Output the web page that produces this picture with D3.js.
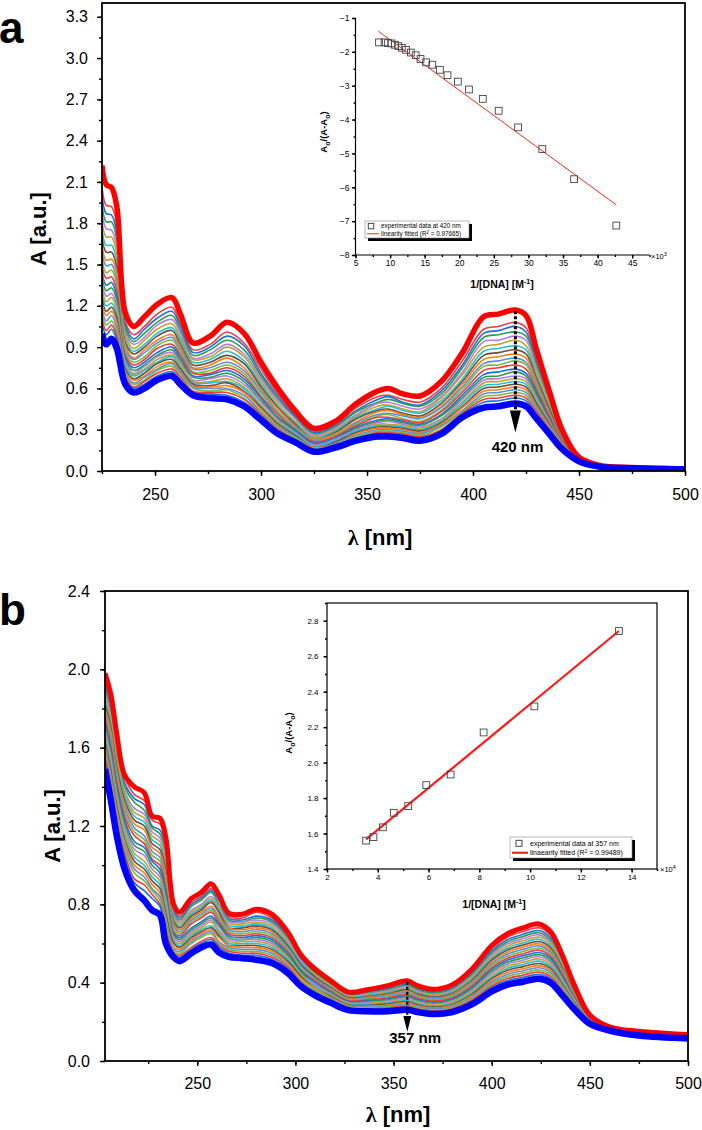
<!DOCTYPE html>
<html><head><meta charset="utf-8">
<script src="https://cdn.jsdelivr.net/npm/d3@7/dist/d3.min.js"></script>
<style>
body{margin:0;background:#fff}
svg{display:block}
text{font-family:"Liberation Sans",Arial,sans-serif;fill:#000}
</style>
</head><body>
<svg id="chart" width="702" height="1130"></svg>
<script>
// ---------------- Panel a: spectra (rows = wavelength; columns = titration steps, first = free complex, last = highest [DNA])
const wavelengthsA = [225,227,229.5,232,236,240,245,251,258,262,268,276,284,292,300,308,316,325,335,345,355,360,367,375,385,395,405,412,420,425,430,436,442,450,460,475,500];
const absorbanceA = [
[2.22, 2.06,2.00,1.94,1.88,1.82,1.76,1.70,1.65,1.60,1.55,1.50,1.45,1.41,1.37,1.33,1.29,1.26,1.22,1.18,1.15,1.11,1.07, 1.00],
[2.08, 1.93,1.87,1.81,1.76,1.70,1.64,1.59,1.53,1.49,1.44,1.40,1.35,1.31,1.27,1.23,1.20,1.16,1.13,1.09,1.06,1.02,0.99, 0.92],
[2.06, 1.92,1.86,1.81,1.75,1.70,1.64,1.59,1.54,1.50,1.46,1.41,1.37,1.33,1.29,1.26,1.22,1.19,1.16,1.13,1.09,1.06,1.03, 0.96],
[1.92, 1.79,1.73,1.68,1.63,1.58,1.53,1.48,1.44,1.39,1.35,1.31,1.27,1.24,1.20,1.17,1.14,1.11,1.08,1.04,1.01,0.98,0.95, 0.89],
[1.15, 1.08,1.06,1.03,1.00,0.98,0.95,0.93,0.91,0.88,0.86,0.84,0.82,0.80,0.79,0.77,0.76,0.74,0.72,0.71,0.69,0.68,0.66, 0.63],
[1.05, 0.99,0.96,0.94,0.92,0.89,0.87,0.85,0.82,0.81,0.79,0.77,0.75,0.73,0.71,0.70,0.69,0.67,0.66,0.64,0.63,0.61,0.60, 0.57],
[1.12, 1.05,1.03,1.00,0.97,0.95,0.92,0.90,0.88,0.86,0.83,0.81,0.79,0.77,0.76,0.74,0.73,0.71,0.69,0.68,0.66,0.65,0.63, 0.60],
[1.21, 1.14,1.11,1.08,1.06,1.03,1.00,0.98,0.95,0.93,0.91,0.89,0.86,0.84,0.83,0.81,0.79,0.78,0.76,0.74,0.73,0.71,0.69, 0.66],
[1.26, 1.19,1.16,1.13,1.10,1.07,1.04,1.02,0.99,0.97,0.95,0.92,0.90,0.88,0.86,0.84,0.83,0.81,0.79,0.78,0.76,0.74,0.72, 0.69],
[1.14, 1.07,1.05,1.02,1.00,0.97,0.95,0.92,0.90,0.88,0.86,0.84,0.82,0.80,0.78,0.77,0.75,0.74,0.72,0.71,0.69,0.68,0.66, 0.63],
[0.93, 0.88,0.86,0.84,0.82,0.81,0.79,0.77,0.75,0.74,0.72,0.71,0.69,0.68,0.66,0.65,0.64,0.63,0.62,0.61,0.60,0.58,0.57, 0.55],
[0.98, 0.92,0.90,0.88,0.85,0.83,0.81,0.79,0.77,0.75,0.73,0.71,0.70,0.68,0.67,0.65,0.64,0.62,0.61,0.60,0.58,0.57,0.56, 0.53],
[1.08, 1.01,0.98,0.95,0.92,0.90,0.87,0.84,0.82,0.79,0.77,0.75,0.73,0.71,0.69,0.67,0.65,0.64,0.62,0.60,0.59,0.57,0.55, 0.52],
[1.00, 0.93,0.91,0.88,0.85,0.83,0.80,0.78,0.75,0.73,0.71,0.69,0.67,0.65,0.63,0.61,0.60,0.58,0.57,0.55,0.53,0.52,0.50, 0.47],
[0.79, 0.74,0.71,0.69,0.67,0.65,0.63,0.61,0.59,0.58,0.56,0.54,0.53,0.51,0.50,0.48,0.47,0.46,0.45,0.43,0.42,0.41,0.40, 0.37],
[0.60, 0.56,0.54,0.52,0.51,0.49,0.47,0.46,0.45,0.43,0.42,0.41,0.39,0.38,0.37,0.36,0.35,0.34,0.33,0.32,0.31,0.30,0.29, 0.27],
[0.44, 0.41,0.40,0.39,0.38,0.36,0.35,0.34,0.33,0.32,0.31,0.30,0.30,0.29,0.28,0.27,0.27,0.26,0.25,0.25,0.24,0.23,0.22, 0.21],
[0.31, 0.29,0.28,0.27,0.26,0.25,0.24,0.23,0.23,0.22,0.21,0.21,0.20,0.19,0.19,0.18,0.18,0.17,0.17,0.16,0.16,0.15,0.15, 0.14],
[0.36, 0.34,0.33,0.32,0.31,0.30,0.29,0.28,0.27,0.26,0.26,0.25,0.24,0.23,0.23,0.22,0.22,0.21,0.20,0.20,0.19,0.19,0.18, 0.17],
[0.49, 0.46,0.44,0.43,0.41,0.40,0.39,0.38,0.36,0.35,0.34,0.33,0.32,0.31,0.30,0.29,0.29,0.28,0.27,0.26,0.25,0.24,0.24, 0.22],
[0.58, 0.54,0.52,0.50,0.49,0.47,0.45,0.44,0.43,0.41,0.40,0.39,0.37,0.36,0.35,0.34,0.33,0.32,0.31,0.30,0.29,0.28,0.27, 0.25],
[0.60, 0.55,0.54,0.52,0.50,0.48,0.47,0.45,0.44,0.42,0.41,0.39,0.38,0.37,0.36,0.34,0.33,0.32,0.31,0.30,0.29,0.28,0.27, 0.25],
[0.56, 0.52,0.50,0.49,0.47,0.45,0.44,0.42,0.41,0.40,0.38,0.37,0.36,0.35,0.34,0.33,0.32,0.31,0.30,0.29,0.28,0.27,0.26, 0.24],
[0.545, 0.50,0.48,0.47,0.45,0.43,0.42,0.40,0.39,0.38,0.36,0.35,0.34,0.33,0.32,0.31,0.30,0.29,0.28,0.27,0.26,0.25,0.24, 0.22],
[0.65, 0.60,0.58,0.56,0.54,0.53,0.51,0.49,0.47,0.46,0.44,0.43,0.41,0.40,0.38,0.37,0.36,0.35,0.34,0.33,0.32,0.30,0.29, 0.27],
[0.86, 0.80,0.77,0.75,0.72,0.70,0.67,0.65,0.63,0.61,0.59,0.57,0.55,0.53,0.52,0.50,0.49,0.47,0.46,0.44,0.43,0.42,0.41, 0.39],
[1.12, 1.03,1.00,0.97,0.94,0.90,0.87,0.84,0.81,0.78,0.76,0.73,0.70,0.68,0.66,0.64,0.62,0.60,0.58,0.56,0.54,0.52,0.50, 0.46],
[1.14, 1.05,1.02,0.99,0.95,0.92,0.89,0.86,0.83,0.80,0.77,0.75,0.72,0.69,0.67,0.65,0.63,0.61,0.59,0.57,0.55,0.53,0.51, 0.47],
[1.17, 1.08,1.05,1.01,0.98,0.95,0.91,0.88,0.85,0.82,0.80,0.77,0.74,0.72,0.69,0.67,0.65,0.63,0.61,0.59,0.57,0.55,0.53, 0.49],
[1.13, 1.04,1.01,0.98,0.95,0.91,0.88,0.85,0.82,0.79,0.77,0.74,0.71,0.69,0.67,0.65,0.63,0.61,0.59,0.57,0.55,0.53,0.51, 0.47],
[0.88, 0.82,0.79,0.77,0.74,0.72,0.69,0.67,0.65,0.63,0.61,0.59,0.57,0.55,0.53,0.52,0.50,0.49,0.47,0.46,0.44,0.43,0.41, 0.38],
[0.58, 0.54,0.52,0.51,0.49,0.48,0.46,0.45,0.43,0.42,0.41,0.40,0.38,0.37,0.36,0.35,0.34,0.34,0.33,0.32,0.31,0.30,0.29, 0.27],
[0.30, 0.28,0.28,0.27,0.26,0.25,0.25,0.24,0.23,0.23,0.22,0.22,0.21,0.21,0.20,0.20,0.19,0.19,0.19,0.18,0.18,0.17,0.17, 0.16],
[0.10, 0.096,0.095,0.093,0.092,0.090,0.089,0.087,0.086,0.085,0.084,0.082,0.081,0.080,0.079,0.078,0.077,0.076,0.075,0.075,0.074,0.073,0.072, 0.07],
[0.04, 0.039,0.038,0.038,0.037,0.037,0.036,0.036,0.035,0.035,0.035,0.034,0.034,0.033,0.033,0.033,0.032,0.032,0.032,0.032,0.031,0.031,0.031, 0.03],
[0.025, 0.024,0.024,0.024,0.024,0.023,0.023,0.023,0.023,0.022,0.022,0.022,0.022,0.022,0.022,0.021,0.021,0.021,0.021,0.021,0.021,0.020,0.020, 0.02],
[0.015, 0.014,0.014,0.014,0.014,0.014,0.014,0.014,0.014,0.014,0.014,0.014,0.013,0.013,0.013,0.013,0.013,0.013,0.013,0.013,0.013,0.013,0.013, 0.012]
];
const yTicksA = [0,0.3,0.6,0.9,1.2,1.5,1.8,2.1,2.4,2.7,3.0,3.3];
const xTicksA = [250,300,350,400,450,500];

// Inset a
const dnaInvA = [8.4,9.2,9.7,10.2,10.7,11.2,11.7,12.3,13.0,13.7,14.4,15.2,16.1,17.2,18.3,19.8,21.4,23.4,25.7,28.5,32.0,36.6,42.7];
const ratioA  = [-1.72,-1.72,-1.74,-1.75,-1.79,-1.83,-1.88,-1.94,-2.02,-2.10,-2.21,-2.31,-2.38,-2.53,-2.69,-2.88,-3.11,-3.39,-3.74,-4.23,-4.87,-5.76,-7.13];
const fitAx = [8.3, 42.7];
const fitAy = [-1.39, -6.52];
const insetAyTicks = [-8,-7,-6,-5,-4,-3,-2,-1];
const insetAxTicks = [5,10,15,20,25,30,35,40,45];

// ---------------- Panel b
const wavelengthsB = [203,206,209,213,218,223,227,231,234,238,241,247,252,257,261,266,273,280,288,296,303,310,318,327,337,347,357,362,370,380,390,400,408,416,424,430,436,442,450,460,475,500];
const absorbanceB = [
[1.98, 1.95,1.92,1.90,1.88,1.86,1.84,1.82,1.80,1.78,1.76,1.75,1.73,1.71,1.69,1.67,1.65,1.63,1.61,1.59,1.57,1.55,1.53, 1.49],
[1.87, 1.83,1.81,1.78,1.76,1.74,1.72,1.70,1.68,1.65,1.63,1.61,1.59,1.57,1.55,1.52,1.50,1.48,1.46,1.44,1.42,1.40,1.37, 1.33],
[1.67, 1.63,1.61,1.59,1.57,1.55,1.52,1.50,1.48,1.46,1.44,1.42,1.40,1.38,1.36,1.34,1.32,1.30,1.28,1.25,1.23,1.21,1.19, 1.15],
[1.46, 1.45,1.42,1.40,1.38,1.37,1.35,1.33,1.31,1.29,1.27,1.25,1.23,1.21,1.19,1.17,1.15,1.13,1.12,1.10,1.08,1.06,1.04, 0.98],
[1.40, 1.36,1.34,1.32,1.29,1.27,1.25,1.23,1.21,1.19,1.17,1.15,1.12,1.10,1.08,1.06,1.04,1.02,1.00,0.98,0.96,0.93,0.91, 0.87],
[1.37, 1.33,1.31,1.28,1.26,1.24,1.22,1.20,1.18,1.15,1.13,1.11,1.09,1.07,1.05,1.02,1.00,0.98,0.96,0.94,0.92,0.90,0.87, 0.82],
[1.25, 1.23,1.20,1.19,1.17,1.15,1.13,1.11,1.09,1.07,1.05,1.03,1.02,1.00,0.98,0.96,0.94,0.92,0.90,0.88,0.87,0.85,0.83, 0.77],
[1.24, 1.21,1.18,1.16,1.14,1.12,1.10,1.08,1.06,1.04,1.02,1.00,0.98,0.96,0.94,0.92,0.90,0.88,0.86,0.84,0.82,0.80,0.79, 0.745],
[1.14, 1.10,1.08,1.05,1.03,1.01,0.99,0.97,0.95,0.92,0.90,0.88,0.86,0.84,0.82,0.79,0.77,0.75,0.73,0.71,0.69,0.67,0.64, 0.60],
[0.80, 0.78,0.77,0.75,0.74,0.73,0.72,0.71,0.70,0.69,0.68,0.66,0.65,0.64,0.63,0.62,0.61,0.60,0.58,0.57,0.56,0.55,0.54, 0.53],
[0.76, 0.74,0.73,0.72,0.71,0.70,0.69,0.68,0.67,0.66,0.65,0.64,0.63,0.62,0.61,0.60,0.59,0.58,0.57,0.56,0.55,0.54,0.53, 0.51],
[0.83, 0.81,0.80,0.79,0.77,0.76,0.75,0.74,0.73,0.72,0.71,0.70,0.68,0.67,0.66,0.65,0.64,0.63,0.62,0.61,0.60,0.58,0.57, 0.55],
[0.86, 0.84,0.83,0.82,0.80,0.79,0.78,0.77,0.76,0.75,0.74,0.73,0.71,0.70,0.69,0.68,0.67,0.66,0.65,0.64,0.63,0.61,0.60, 0.58],
[0.905, 0.88,0.87,0.86,0.84,0.83,0.82,0.81,0.79,0.78,0.77,0.76,0.74,0.73,0.72,0.71,0.69,0.68,0.67,0.66,0.65,0.63,0.62, 0.595],
[0.85, 0.83,0.82,0.80,0.79,0.78,0.77,0.76,0.74,0.73,0.72,0.71,0.70,0.69,0.67,0.66,0.65,0.64,0.63,0.61,0.60,0.59,0.58, 0.555],
[0.755, 0.74,0.73,0.72,0.71,0.70,0.69,0.68,0.68,0.67,0.66,0.65,0.64,0.63,0.62,0.61,0.60,0.59,0.59,0.58,0.57,0.56,0.55, 0.532],
[0.75, 0.73,0.72,0.71,0.71,0.70,0.69,0.68,0.67,0.66,0.65,0.64,0.63,0.62,0.62,0.61,0.60,0.59,0.58,0.57,0.56,0.55,0.54, 0.525],
[0.775, 0.76,0.74,0.73,0.72,0.71,0.70,0.69,0.68,0.67,0.66,0.65,0.64,0.63,0.62,0.61,0.60,0.59,0.58,0.57,0.56,0.55,0.54, 0.517],
[0.75, 0.73,0.72,0.71,0.70,0.69,0.68,0.67,0.66,0.65,0.64,0.63,0.62,0.61,0.60,0.59,0.58,0.57,0.56,0.55,0.54,0.53,0.52, 0.50],
[0.66, 0.65,0.64,0.63,0.62,0.61,0.60,0.59,0.58,0.58,0.57,0.56,0.55,0.54,0.53,0.53,0.52,0.51,0.50,0.49,0.48,0.48,0.47, 0.45],
[0.54, 0.53,0.52,0.51,0.51,0.50,0.50,0.49,0.48,0.48,0.47,0.46,0.46,0.45,0.44,0.44,0.43,0.43,0.42,0.41,0.41,0.40,0.39, 0.38],
[0.47, 0.46,0.45,0.45,0.44,0.44,0.43,0.43,0.42,0.42,0.41,0.41,0.40,0.39,0.39,0.38,0.38,0.37,0.37,0.36,0.36,0.35,0.35, 0.335],
[0.41, 0.402,0.396,0.392,0.387,0.383,0.378,0.374,0.369,0.365,0.360,0.356,0.351,0.347,0.342,0.338,0.333,0.329,0.324,0.320,0.315,0.311,0.306, 0.297],
[0.352, 0.346,0.341,0.337,0.334,0.330,0.326,0.323,0.319,0.315,0.312,0.308,0.304,0.300,0.297,0.293,0.289,0.286,0.282,0.278,0.275,0.271,0.267, 0.26],
[0.365, 0.357,0.352,0.347,0.343,0.338,0.334,0.329,0.325,0.321,0.316,0.312,0.307,0.303,0.298,0.294,0.290,0.285,0.281,0.276,0.272,0.267,0.263, 0.254],
[0.385, 0.376,0.369,0.364,0.359,0.354,0.348,0.343,0.338,0.333,0.327,0.322,0.317,0.312,0.306,0.301,0.296,0.291,0.285,0.280,0.275,0.270,0.264, 0.254],
[0.41, 0.400,0.392,0.386,0.380,0.374,0.369,0.363,0.357,0.351,0.345,0.339,0.333,0.327,0.321,0.315,0.309,0.303,0.298,0.292,0.286,0.280,0.274, 0.262],
[0.385, 0.376,0.369,0.363,0.358,0.353,0.347,0.342,0.336,0.331,0.326,0.320,0.315,0.309,0.304,0.299,0.293,0.288,0.282,0.277,0.272,0.266,0.261, 0.25],
[0.366, 0.357,0.351,0.346,0.341,0.336,0.331,0.326,0.321,0.316,0.311,0.306,0.300,0.295,0.290,0.285,0.280,0.275,0.270,0.265,0.260,0.255,0.250, 0.24],
[0.39, 0.380,0.373,0.368,0.362,0.356,0.351,0.345,0.340,0.334,0.328,0.323,0.317,0.312,0.306,0.300,0.295,0.289,0.284,0.278,0.272,0.267,0.261, 0.25],
[0.47, 0.457,0.448,0.441,0.434,0.427,0.420,0.412,0.405,0.398,0.391,0.384,0.376,0.369,0.362,0.355,0.348,0.340,0.333,0.326,0.319,0.312,0.304, 0.29],
[0.59, 0.574,0.562,0.552,0.543,0.534,0.524,0.515,0.505,0.496,0.487,0.477,0.468,0.458,0.449,0.440,0.430,0.421,0.411,0.402,0.393,0.383,0.374, 0.355],
[0.65, 0.632,0.619,0.608,0.598,0.588,0.577,0.567,0.556,0.546,0.536,0.525,0.515,0.504,0.494,0.484,0.473,0.463,0.452,0.442,0.432,0.421,0.411, 0.39],
[0.68, 0.661,0.647,0.636,0.625,0.614,0.603,0.592,0.581,0.570,0.559,0.548,0.537,0.526,0.515,0.504,0.493,0.482,0.471,0.460,0.449,0.438,0.427, 0.405],
[0.70, 0.680,0.666,0.655,0.644,0.633,0.622,0.610,0.599,0.588,0.577,0.566,0.554,0.543,0.532,0.521,0.510,0.498,0.487,0.476,0.465,0.454,0.442, 0.42],
[0.66, 0.642,0.629,0.618,0.608,0.598,0.587,0.577,0.566,0.556,0.546,0.535,0.525,0.514,0.504,0.494,0.483,0.473,0.462,0.452,0.442,0.431,0.421, 0.40],
[0.54, 0.526,0.515,0.507,0.499,0.491,0.483,0.474,0.466,0.458,0.450,0.442,0.433,0.425,0.417,0.409,0.401,0.392,0.384,0.376,0.368,0.360,0.351, 0.335],
[0.39, 0.381,0.375,0.370,0.365,0.360,0.355,0.350,0.345,0.340,0.335,0.330,0.325,0.320,0.315,0.310,0.305,0.300,0.295,0.290,0.285,0.280,0.275, 0.265],
[0.235, 0.232,0.230,0.228,0.226,0.224,0.222,0.221,0.219,0.217,0.215,0.213,0.212,0.210,0.208,0.206,0.204,0.203,0.201,0.199,0.197,0.195,0.194, 0.19],
[0.175, 0.174,0.173,0.172,0.171,0.170,0.169,0.169,0.168,0.167,0.166,0.165,0.165,0.164,0.163,0.162,0.161,0.161,0.160,0.159,0.158,0.157,0.157, 0.155],
[0.152, 0.150,0.149,0.148,0.148,0.147,0.146,0.145,0.144,0.143,0.142,0.141,0.141,0.140,0.139,0.138,0.137,0.136,0.135,0.134,0.134,0.133,0.132, 0.13],
[0.135, 0.134,0.133,0.132,0.131,0.130,0.129,0.129,0.128,0.127,0.126,0.125,0.125,0.124,0.123,0.122,0.121,0.121,0.120,0.119,0.118,0.117,0.117, 0.115]
];
const yTicksB = [0,0.4,0.8,1.2,1.6,2.0,2.4];
const xTicksB = [250,300,350,400,450,500];

// Inset b
const dnaInvB = [3.54,3.83,4.20,4.63,5.20,5.91,6.87,8.17,10.17,13.50];
const ratioB  = [1.56,1.58,1.635,1.717,1.755,1.873,1.933,2.17,2.317,2.742];
const fitBx = [3.54, 13.5];
const fitBy = [1.567, 2.742];
const insetByTicks = [1.4,1.6,1.8,2.0,2.2,2.4,2.6,2.8];
const insetBxTicks = [2,4,6,8,10,12,14];

const thinColors = ['#ee3b3b','#1c6fdc','#2f9a4f','#b07fe0','#c7a02b','#1fc2d3','#6d4c3d','#ff7c14','#5b90d8','#7bb944'];

// ======================================================================
const svg = d3.select('#chart');
svg.append('rect').attr('width',702).attr('height',1130).attr('fill','#fff');

function styleAxis(g, fs){
  g.select('.domain').remove();
  g.selectAll('.tick line').attr('stroke','#000').attr('stroke-width',1.4);
  g.selectAll('.tick text').attr('font-size',fs).attr('fill','#000')
    .style('font-family','"Liberation Sans",Arial,sans-serif');
}

function mainPanel(o){
  const x = d3.scaleLinear().domain(o.xDomain).range([o.left,o.right]);
  const y = d3.scaleLinear().domain(o.yDomain).range([o.bottom,o.top]);
  const id = 'clip'+o.key;
  svg.append('clipPath').attr('id',id).append('rect')
    .attr('x',o.left).attr('y',o.top).attr('width',o.right-o.left).attr('height',o.bottom-o.top);
  const g = svg.append('g').attr('clip-path',`url(#${id})`);
  const n = o.rows[0].length;
  const line = d3.line().x((d,i)=>x(o.wl[i])).y(d=>y(d)).curve(d3.curveCatmullRom.alpha(0.5));
  for(let j=1;j<n-1;j++){
    g.append('path').attr('d',line(o.rows.map(r=>r[j]))).attr('fill','none')
      .attr('stroke',thinColors[(j-1)%thinColors.length]).attr('stroke-width',1.6);
  }
  g.append('path').attr('d',line(o.rows.map(r=>r[0]))).attr('fill','none')
    .attr('stroke','#ff0000').attr('stroke-width',o.thickTop).attr('stroke-linejoin','round');
  g.append('path').attr('d',line(o.rows.map(r=>r[n-1]))).attr('fill','none')
    .attr('stroke','#0000ff').attr('stroke-width',o.thickBot).attr('stroke-linejoin','round');

  // axes
  const minorY = d3.range(o.yDomain[0], o.yDomain[1]+1e-9, o.yMinor).map(v=>+v.toFixed(3));
  const minorX = d3.range(Math.ceil(o.xDomain[0]/o.xMinor)*o.xMinor, o.xDomain[1]+1e-9, o.xMinor);
  const gy2 = svg.append('g').attr('transform',`translate(${o.left},0)`)
    .call(d3.axisLeft(y).tickValues(minorY).tickSize(3).tickFormat(''));
  styleAxis(gy2, 0);
  const gy = svg.append('g').attr('transform',`translate(${o.left},0)`)
    .call(d3.axisLeft(y).tickValues(o.yTicks).tickSize(5).tickPadding(o.yPad).tickFormat(d3.format('.1f')));
  styleAxis(gy, o.tickFont);
  const gx2 = svg.append('g').attr('transform',`translate(0,${o.bottom})`)
    .call(d3.axisBottom(x).tickValues(minorX).tickSize(3).tickFormat(''));
  styleAxis(gx2, 0);
  const gx = svg.append('g').attr('transform',`translate(0,${o.bottom})`)
    .call(d3.axisBottom(x).tickValues(o.xTicks).tickSize(5).tickPadding(o.xPad).tickFormat(d3.format('d')));
  styleAxis(gx, o.tickFont);
  svg.append('rect').attr('x',o.left).attr('y',o.top).attr('width',o.right-o.left).attr('height',o.bottom-o.top)
    .attr('fill','none').attr('stroke','#000').attr('stroke-width',1.8);

  // titles
  svg.append('text').attr('transform',`translate(${o.yLabelX},${(o.top+o.bottom)/2+o.yLabelDy}) rotate(-90)`)
    .attr('text-anchor','middle').attr('font-size',22).attr('font-weight','bold').text('A [a.u.]');
  const xt = svg.append('text').attr('x',o.xLabelX).attr('y',o.xLabelY).attr('text-anchor','middle')
    .attr('font-size',22).attr('font-weight','bold');
  xt.append('tspan').style('font-family','"Liberation Serif","DejaVu Serif",serif').text('λ');
  xt.append('tspan').text(' [nm]');
  svg.append('text').attr('x',o.letterX).attr('y',o.letterY).attr('font-size',44).attr('font-weight','bold').text(o.key);

  // arrow annotation
  const ax = x(o.arrow.lambda);
  svg.append('line').attr('x1',ax).attr('x2',ax).attr('y1',y(o.arrow.from)).attr('y2',y(o.arrow.headStart))
    .attr('stroke','#000').attr('stroke-width',o.arrow.w).attr('stroke-dasharray','3,2');
  const hs = y(o.arrow.headStart), tip = y(o.arrow.tip);
  svg.append('path').attr('d',`M${ax-o.arrow.half},${hs} L${ax+o.arrow.half},${hs} L${ax},${tip} Z`).attr('fill','#000');
  svg.append('text').attr('x',x(o.arrow.textLambda)).attr('y',y(o.arrow.textY)).attr('text-anchor','middle')
    .attr('font-size',15).attr('font-weight','bold').text(o.arrow.label);
  return {x,y};
}

mainPanel({key:'a', wl:wavelengthsA, rows:absorbanceA, xDomain:[225,500], yDomain:[0,3.4],
  left:102, right:685, top:3, bottom:471, yTicks:yTicksA, xTicks:xTicksA, yMinor:0.15, xMinor:25,
  yPad:9, xPad:13, tickFont:16, thickTop:5.5, thickBot:6.5,
  yLabelX:46, yLabelDy:-8, xLabelX:380, xLabelY:545, letterX:-1, letterY:43,
  arrow:{lambda:420, from:1.16, headStart:0.44, tip:0.28, half:5.5, w:3, textLambda:421, textY:0.14, label:'420 nm'}});

mainPanel({key:'b', wl:wavelengthsB, rows:absorbanceB, xDomain:[203,500], yDomain:[0,2.4],
  left:105, right:688, top:591, bottom:1061, yTicks:yTicksB, xTicks:xTicksB, yMinor:0.2, xMinor:25,
  yPad:10, xPad:12, tickFont:16, thickTop:5, thickBot:6.5,
  yLabelX:60, yLabelDy:0, xLabelX:398, xLabelY:1122, letterX:-1, letterY:625,
  arrow:{lambda:357, from:0.405, headStart:0.23, tip:0.15, half:4, w:2.2, textLambda:361, textY:0.09, label:'357 nm'}});

// ---------------- insets
function yTitle(cx, cy){
  const t = svg.append('text').attr('transform',`translate(${cx},${cy}) rotate(-90)`).attr('text-anchor','middle')
    .attr('font-size',9.5).attr('font-weight','bold');
  t.append('tspan').text('A');
  t.append('tspan').attr('font-size',7).attr('dy',2.5).text('o');
  t.append('tspan').attr('dy',-2.5).text('/(A-A');
  t.append('tspan').attr('font-size',7).attr('dy',2.5).text('o');
  t.append('tspan').attr('dy',-2.5).text(')');
}
function xTitle(cx, cy){
  const t = svg.append('text').attr('x',cx).attr('y',cy).attr('text-anchor','middle')
    .attr('font-size',10.5).attr('font-weight','bold');
  t.append('tspan').text('1/[DNA] [M');
  t.append('tspan').attr('font-size',7).attr('dy',-4).text('-1');
  t.append('tspan').attr('dy',4).text(']');
}
function multiplier(xp, yp, exp){
  const t = svg.append('text').attr('x',xp).attr('y',yp).attr('font-size',7.5);
  t.append('tspan').text('×10');
  t.append('tspan').attr('font-size',5.5).attr('dy',-3).text(exp);
}
function legend(o){
  svg.append('rect').attr('x',o.x+3).attr('y',o.y+3).attr('width',o.w).attr('height',o.h).attr('fill','#000');
  svg.append('rect').attr('x',o.x).attr('y',o.y).attr('width',o.w).attr('height',o.h).attr('fill','#fff')
    .attr('stroke','#888').attr('stroke-width',0.6);
  const r1 = o.y + o.h*0.3, r2 = o.y + o.h*0.75;
  svg.append('rect').attr('x',o.mx-o.ms/2).attr('y',r1-o.ms/2).attr('width',o.ms).attr('height',o.ms)
    .attr('fill','none').attr('stroke','#333').attr('stroke-width',0.9);
  svg.append('line').attr('x1',o.x+2).attr('x2',o.tx-2).attr('y1',r2).attr('y2',r2).attr('stroke','#ee2a1a').attr('stroke-width',o.lw);
  svg.append('text').attr('x',o.tx).attr('y',r1+2.2).attr('font-size',o.fs).text(o.t1);
  const t = svg.append('text').attr('x',o.tx).attr('y',r2+2.2).attr('font-size',o.fs);
  t.append('tspan').text(o.t2a);
  t.append('tspan').attr('font-size',o.fs*0.7).attr('dy',-2.2).text('2');
  t.append('tspan').attr('dy',2.2).text(o.t2b);
}

// inset a
(function(){
  const x = d3.scaleLinear().domain([5,47.5]).range([355.5,649.5]);
  const y = d3.scaleLinear().domain([-8,-1]).range([255,18]);
  const gy2 = svg.append('g').attr('transform','translate(355.5,0)')
    .call(d3.axisLeft(y).tickValues(d3.range(-8,-0.99,0.5)).tickSize(2).tickFormat(''));
  styleAxis(gy2,0);
  const gy = svg.append('g').attr('transform','translate(355.5,0)')
    .call(d3.axisLeft(y).tickValues(insetAyTicks).tickSize(3.5).tickPadding(2.5).tickFormat(d3.format('d')));
  styleAxis(gy,8.5);
  const gx2 = svg.append('g').attr('transform','translate(0,255)')
    .call(d3.axisBottom(x).tickValues(d3.range(5,47.6,2.5)).tickSize(2).tickFormat(''));
  styleAxis(gx2,0);
  const gx = svg.append('g').attr('transform','translate(0,255)')
    .call(d3.axisBottom(x).tickValues(insetAxTicks).tickSize(3.5).tickPadding(1.5).tickFormat(d3.format('d')));
  styleAxis(gx,8.5);
  svg.append('line').attr('x1',355.5).attr('x2',355.5).attr('y1',18).attr('y2',255).attr('stroke','#000').attr('stroke-width',1.2);
  svg.append('line').attr('x1',355.5).attr('x2',649.5).attr('y1',255).attr('y2',255).attr('stroke','#000').attr('stroke-width',1.2);
  svg.append('line').attr('x1',x(fitAx[0])).attr('x2',x(fitAx[1])).attr('y1',y(fitAy[0])).attr('y2',y(fitAy[1]))
    .attr('stroke','#ee2a1a').attr('stroke-width',1);
  svg.append('g').selectAll('rect').data(dnaInvA.map((d,i)=>[d,ratioA[i]])).join('rect')
    .attr('x',d=>x(d[0])-3.4).attr('y',d=>y(d[1])-3.4).attr('width',6.8).attr('height',6.8)
    .attr('fill','none').attr('stroke','#444').attr('stroke-width',0.9);
  yTitle(327, 132);
  xTitle(502, 288);
  multiplier(651, 259, '3');
  legend({x:365,y:221,w:104,h:17,mx:371,ms:5.5,tx:381,fs:6.3,lw:1,
    t1:'experimental data at 420 nm', t2a:'linearity fitted (R', t2b:' = 0.97665)'});
})();

// inset b
(function(){
  const x = d3.scaleLinear().domain([2,15]).range([327,657]);
  const y = d3.scaleLinear().domain([1.4,2.9]).range([869,603]);
  const gy2 = svg.append('g').attr('transform','translate(327,0)')
    .call(d3.axisLeft(y).tickValues(d3.range(1.4,2.91,0.1)).tickSize(2).tickFormat(''));
  styleAxis(gy2,0);
  const gy = svg.append('g').attr('transform','translate(327,0)')
    .call(d3.axisLeft(y).tickValues(insetByTicks).tickSize(3.5).tickPadding(5).tickFormat(d3.format('.1f')));
  styleAxis(gy,8);
  const gx2 = svg.append('g').attr('transform','translate(0,869)')
    .call(d3.axisBottom(x).tickValues(d3.range(2,15.01,1)).tickSize(2).tickFormat(''));
  styleAxis(gx2,0);
  const gx = svg.append('g').attr('transform','translate(0,869)')
    .call(d3.axisBottom(x).tickValues(insetBxTicks).tickSize(3.5).tickPadding(2).tickFormat(d3.format('d')));
  styleAxis(gx,8);
  svg.append('rect').attr('x',327).attr('y',603).attr('width',330).attr('height',266)
    .attr('fill','none').attr('stroke','#000').attr('stroke-width',1.2);
  svg.append('line').attr('x1',x(fitBx[0])).attr('x2',x(fitBx[1])).attr('y1',y(fitBy[0])).attr('y2',y(fitBy[1]))
    .attr('stroke','#ff1a1a').attr('stroke-width',2.2);
  svg.append('g').selectAll('rect').data(dnaInvB.map((d,i)=>[d,ratioB[i]])).join('rect')
    .attr('x',d=>x(d[0])-3.4).attr('y',d=>y(d[1])-3.4).attr('width',6.8).attr('height',6.8)
    .attr('fill','none').attr('stroke','#444').attr('stroke-width',0.9);
  yTitle(292, 733);
  xTitle(494, 908);
  multiplier(660, 872, '4');
  legend({x:510,y:837,w:122,h:21,mx:519,ms:6,tx:530,fs:7,lw:2.2,
    t1:'experimental data at 357 nm', t2a:'linaearity fitted (R', t2b:' = 0.99489)'});
})();
</script>
</body></html>
